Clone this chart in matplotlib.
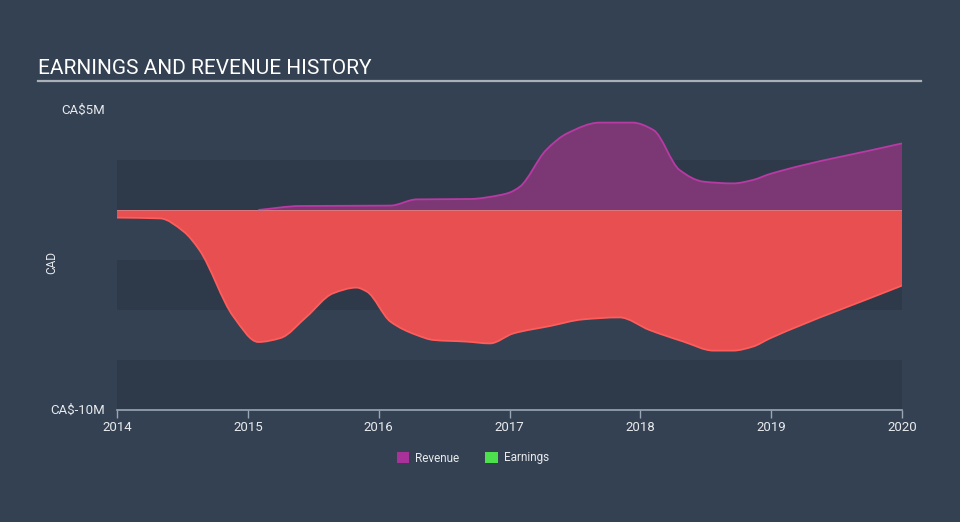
import numpy as np
import matplotlib
matplotlib.use("Agg")
import matplotlib.pyplot as plt
from matplotlib.path import Path
from matplotlib.patches import PathPatch, Patch

# ---- data (CA$ millions) ----
rev_x = [2015.08, 2015.40, 2016.09, 2016.29, 2016.70, 2016.93, 2017.00, 2017.08, 2017.28,
         2017.44, 2017.69, 2017.94, 2018.10, 2018.30, 2018.48, 2018.71, 2018.86, 2018.99, 2020.00]
rev_y = [0.0, 0.2, 0.22, 0.53, 0.55, 0.75, 0.87, 1.17, 3.0,
         3.83, 4.37, 4.37, 4.0, 2.0, 1.42, 1.33, 1.5, 1.8, 3.33]

earn_x = [2014.00, 2014.33, 2014.51, 2014.63, 2014.89, 2015.08, 2015.25, 2015.45, 2015.65,
          2015.83, 2015.91, 2016.09, 2016.29, 2016.42, 2016.67, 2016.85, 2017.03, 2017.31,
          2017.56, 2017.84, 2018.07, 2018.33, 2018.56, 2018.71, 2018.86, 2018.99, 2020.00]
earn_y = [-0.38, -0.42, -1.08, -2.0, -5.33, -6.6, -6.4, -5.33, -4.17,
          -3.88, -4.08, -5.58, -6.25, -6.5, -6.58, -6.67, -6.17, -5.8,
          -5.47, -5.37, -6.0, -6.58, -7.03, -7.03, -6.83, -6.42, -3.78]

year_ticks = [2014, 2015, 2016, 2017, 2018, 2019, 2020]
y_labels = {5: "CA$5M", -10: "CA$-10M"}

BG = "#334152"
BAND = "#2e3a4a"
REV_FILL = "#7b3874"
REV_LINE = "#b83aa4"
EARN_FILL = "#e84f50"
EARN_LINE = "#ff5c5c"
TXT = "#e8eaed"
AXC = "#9aa7b4"


def monotone_path_verts(x, y):
    x = np.asarray(x, float); y = np.asarray(y, float)
    n = len(x)
    h = np.diff(x); d = np.diff(y) / h
    m = np.zeros(n)
    m[0] = d[0]; m[-1] = d[-1]
    for i in range(1, n - 1):
        if d[i - 1] * d[i] <= 0:
            m[i] = 0
        else:
            m[i] = 3 * (h[i - 1] + h[i]) / ((2 * h[i] + h[i - 1]) / d[i - 1] + (h[i] + 2 * h[i - 1]) / d[i])
    verts = [(x[0], y[0])]; codes = [Path.MOVETO]
    for i in range(n - 1):
        dx = h[i] / 3
        verts += [(x[i] + dx, y[i] + m[i] * dx), (x[i + 1] - dx, y[i + 1] - m[i + 1] * dx), (x[i + 1], y[i + 1])]
        codes += [Path.CURVE4] * 3
    return verts, codes


fig = plt.figure(figsize=(9.6, 5.22), dpi=100, facecolor=BG)
ax = fig.add_axes([117 / 960, (522 - 410) / 522, (902 - 117) / 960, 300 / 522])
ax.set_facecolor(BG)
ax.set_xlim(2014, 2020)
ax.set_ylim(-10, 5)

for lo, hi in [(0, 2.5), (-5, -2.5), (-10, -7.5)]:
    ax.axhspan(lo, hi, color=BAND, lw=0, zorder=0)

# revenue area
v, c = monotone_path_verts(rev_x, rev_y)
fv = v + [(rev_x[-1], 0), (rev_x[0], 0), (rev_x[0], 0)]
fc = c + [Path.LINETO, Path.LINETO, Path.CLOSEPOLY]
ax.add_patch(PathPatch(Path(fv, fc), facecolor=REV_FILL, edgecolor="none", zorder=2))
ax.add_patch(PathPatch(Path(v, c), facecolor="none", edgecolor=REV_LINE, lw=1.3, zorder=3))

# earnings area
v, c = monotone_path_verts(earn_x, earn_y)
fv = v + [(earn_x[-1], 0), (earn_x[0], 0), (earn_x[0], 0)]
fc = c + [Path.LINETO, Path.LINETO, Path.CLOSEPOLY]
ax.add_patch(PathPatch(Path(fv, fc), facecolor=EARN_FILL, edgecolor="none", zorder=2))
ax.add_patch(PathPatch(Path(v, c), facecolor="none", edgecolor=EARN_LINE, lw=1.3, zorder=3))

ax.axhline(0, color="#c9a0a8", lw=0.6, alpha=0.6, zorder=4)

for s in ["top", "right", "left"]:
    ax.spines[s].set_visible(False)
ax.spines["bottom"].set_color(AXC)
ax.spines["bottom"].set_linewidth(1.2)
ax.set_yticks([])
ax.set_xticks(year_ticks)
ax.set_xticklabels([str(t) for t in year_ticks], color=TXT, fontsize=9.5, family="Roboto")
ax.tick_params(axis="x", colors=AXC, length=6, width=1, pad=2, labelcolor=TXT)

for val, lab in y_labels.items():
    ax.text(-0.015, (val + 10) / 15, lab, transform=ax.transAxes, ha="right", va="center",
            color=TXT, fontsize=9.5, family="Roboto")
fig.text(52 / 960, 1 - 262 / 522, "CAD", rotation=90, ha="center", va="center",
         color=TXT, fontsize=8.5, family="Roboto")

fig.text(38 / 960, 1 - 68 / 522, "EARNINGS AND REVENUE HISTORY", ha="left", va="center",
         color="#ffffff", fontsize=15, family="Roboto")
fig.add_artist(plt.Line2D([38 / 960, 921 / 960], [1 - 81 / 522, 1 - 81 / 522],
                          color="#a9b0b8", lw=1.6, transform=fig.transFigure))

handles = [Patch(facecolor="#a8329a", edgecolor="none", label="Revenue"),
           Patch(facecolor="#4ee14e", edgecolor="none", label="Earnings")]
leg = fig.legend(handles=handles, loc="center", bbox_to_anchor=(473 / 960, 1 - 458 / 522),
                 ncol=2, frameon=False, handlelength=1.1, handleheight=1.1,
                 columnspacing=2.2, handletextpad=0.5, prop={"family": "Roboto", "size": 8.5})
for t in leg.get_texts():
    t.set_color(TXT)

fig.savefig("out.png", dpi=100, facecolor=BG)
